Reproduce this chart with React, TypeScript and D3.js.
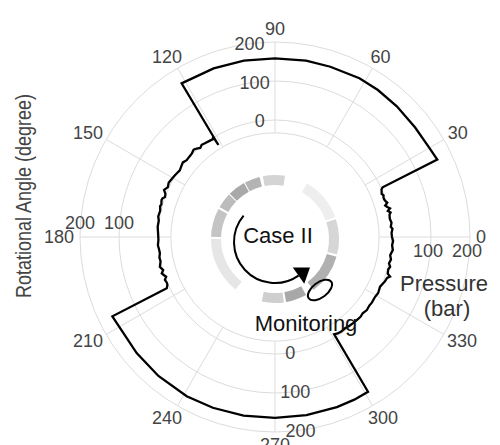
import React from 'react';
import * as d3 from 'd3';

// ---------- data ----------
const angleTicks = [0, 30, 60, 90, 120, 150, 180, 210, 240, 270, 300, 330];
const radialTicksVertical = [0, 100, 200];
const radialTicksHorizontal = [100, 200];
const radialDomain = [-300, 200];
const gridCircles = [-33, 0, 100, 200];
const spokeInner = -33;

// [rotational angle (deg), pressure (bar)]
const pressureTrace: [number, number][] = [
  [0, 0], [2, -1], [4, 2], [5, -2], [7, 1], [9, -2], [11, -1], [12, 3], [13, -3], [14, 4],
  [15, -2], [16, -6], [17, 1], [18, -2], [19, -4], [20, -4], [21, -2], [22, -5], [23, -3],
  [24, -1], [24.8, 4],
  [25.5, 161], [30, 157], [38, 156], [47, 158], [55, 160], [62, 161], [72, 159], [80, 159],
  [90, 158], [100, 159], [110, 160], [121.3, 161],
  [121.6, -23], [121.7, 2], [122.5, -3], [124, -2], [126.8, 0], [128.5, 2], [130, -2],
  [131.5, 3], [133, 6], [135, 2], [137, 1], [139, 0], [141, 4], [143, 1], [145, -2], [147, 0],
  [149, 2], [151, 4], [153, 6], [155, 3], [157, 9], [158.5, 2], [160, 0], [161, 5], [162, 6],
  [164, 3], [165, 5], [167, 2], [170, 4], [172, 1], [175, 2], [178, 0], [181.5, -1], [184, 1],
  [186, -1], [188, -2], [190, 1], [192, 0], [194.5, 5], [196.5, -1], [197.8, 5], [199, 1],
  [200, -3], [201.3, 3], [203, 1], [204, 2], [205.3, 7],
  [206, 164], [210, 161], [220, 163], [230, 165], [241, 167], [250, 166], [260, 165],
  [270, 164], [280, 164], [290, 164], [296, 164], [301, 163],
  [301.3, -8], [303, -5], [305, -4], [307.5, -5], [310, -3], [312, -2], [314.5, -1], [317, 0],
  [319, -2], [321.5, 1], [324, -1], [326, 0], [329, -1], [331.5, 1], [334.7, -2], [337, 2],
  [338, 4], [340, 6], [341, 12], [342, 4], [344, 2], [345.5, 5], [347, 0], [349, 3], [351, -1],
  [353.7, 4], [356, 1], [358, 3], [360, 0],
];

// inner grey ring segments: [start angle, end angle, shade]
const ringStarts = [20, 81, 104, 119, 136, 152, 180, 258, 280, 307, 346];
const ringEnds = [60, 101, 118, 135, 150, 178, 232, 278, 299, 344, 378];
const ringShades = ['#eeeeee', '#d4d4d4', '#b4b4b4', '#a9a9a9', '#bcbcbc', '#c4c4c4', '#e6e6e6', '#cfcfcf', '#a8a8a8', '#b0b0b0', '#d6d6d6'];

// ---------- layout ----------
const W = 500;
const H = 445;
const cx = 275;
const cy = 237;
const R = 195;
const FONT = '"Liberation Sans", Arial, Helvetica, sans-serif';

const rScale = d3.scaleLinear().domain(radialDomain).range([0, R]);
const aScale = d3.scaleLinear().domain([0, 360]).range([0, 2 * Math.PI]);

const px = (deg: number, r: number) => cx + r * Math.cos(aScale(deg));
const py = (deg: number, r: number) => cy - r * Math.sin(aScale(deg));

export default function App() {
  const line = d3
    .line<[number, number]>()
    .x((d) => px(d[0], rScale(d[1])))
    .y((d) => py(d[0], rScale(d[1])));

  const ringArc = d3.arc<any>().innerRadius(54).outerRadius(64);

  // angle label placement: box touches circle of radius labelR
  const labelR = 201;
  const angleLabelPos = (a: number) => {
    const w = String(a).length * 10;
    const h = 14;
    const c = Math.cos(aScale(a));
    const s = Math.sin(aScale(a));
    return [px(a, labelR) + (w / 2) * c, py(a, labelR) - (h / 2) * s];
  };

  // arrow annotation
  const acx = 275, acy = 242, ar = 41;
  const arrowPath = d3.arc<any>()({
    innerRadius: ar,
    outerRadius: ar,
    startAngle: aScale(90 - 140),
    endAngle: aScale(90 - 305),
  } as any);
  const endDeg = 305;
  const ex = acx + ar * Math.cos(aScale(endDeg));
  const ey = acy - ar * Math.sin(aScale(endDeg));
  const tx = -Math.sin(aScale(endDeg));
  const ty = -Math.cos(aScale(endDeg));
  const nx = Math.cos(aScale(endDeg));
  const ny = -Math.sin(aScale(endDeg));
  const tip = [ex + tx * 14, ey + ty * 14];
  const b1 = [ex + nx * 10, ey + ny * 10];
  const b2 = [ex - nx * 10, ey - ny * 10];

  return (
    <svg width={W} height={H} style={{ position: 'absolute', left: 0, top: 0, background: '#fff' }} fontFamily={FONT}>
      <rect x={0} y={0} width={W} height={H} fill="#fff" />
      {/* grid circles */}
      {gridCircles.map((v) => (
        <circle key={v} cx={cx} cy={cy} r={rScale(v)} fill="none" stroke="#dcdcdc" strokeWidth={1} />
      ))}
      {/* spokes */}
      {angleTicks.map((a) => (
        <line key={a} x1={px(a, rScale(spokeInner))} y1={py(a, rScale(spokeInner))} x2={px(a, R)} y2={py(a, R)} stroke="#dcdcdc" strokeWidth={1} />
      ))}
      {/* angle labels */}
      {angleTicks.map((a) => {
        const [x, y] = angleLabelPos(a);
        return (
          <text key={a} x={x} y={y} textAnchor="middle" dy="0.36em" fontSize={18} fill="#444">
            {a}
          </text>
        );
      })}
      {/* radial labels, vertical axes */}
      {radialTicksVertical.map((v) => (
        <text key={'t' + v} x={px(97.5, rScale(v))} y={py(97.5, rScale(v))} textAnchor="middle" dy="0.36em" fontSize={18} fill="#444">
          {v}
        </text>
      ))}
      {radialTicksVertical.map((v) => (
        <text key={'b' + v} x={px(277.5, rScale(v))} y={py(277.5, rScale(v))} textAnchor="middle" dy="0.36em" fontSize={18} fill="#444">
          {v}
        </text>
      ))}
      {/* radial labels, horizontal axes */}
      {radialTicksHorizontal.map((v) => (
        <text key={'l' + v} x={px(180, rScale(v))} y={cy - 14} textAnchor="middle" dy="0.36em" fontSize={18} fill="#444">
          {v}
        </text>
      ))}
      {radialTicksHorizontal.map((v) => (
        <text key={'r' + v} x={px(0, rScale(v)) - 3} y={cy + 14} textAnchor="middle" dy="0.36em" fontSize={18} fill="#444">
          {v}
        </text>
      ))}
      {/* inner ring */}
      <g transform={`translate(${cx},${cy + 2})`}>
        {ringStarts.map((s, i) => (
          <path key={i} d={ringArc({ startAngle: aScale(90 - ringEnds[i]), endAngle: aScale(90 - s) } as any) || ''} fill={ringShades[i]} />
        ))}
      </g>
      {/* pressure trace */}
      <path d={line(pressureTrace) || ''} fill="none" stroke="#000" strokeWidth={2.3} strokeLinejoin="miter" />
      {/* arrow */}
      <g transform={`translate(${acx},${acy})`}>
        <path d={arrowPath || ''} fill="none" stroke="#000" strokeWidth={2} />
      </g>
      <path d={`M${tip[0]},${tip[1]}L${b1[0]},${b1[1]}L${b2[0]},${b2[1]}Z`} fill="#000" />
      <ellipse cx={320} cy={290} rx={14} ry={7.5} transform="rotate(-37 320 290)" fill="none" stroke="#000" strokeWidth={2} />
      {/* annotation texts */}
      <text x={278} y={235} textAnchor="middle" dy="0.36em" fontSize={22} fill="#111">Case II</text>
      <text x={306} y={323} textAnchor="middle" dy="0.36em" fontSize={22} fill="#111">Monitoring</text>
      <text x={444} y={283} textAnchor="middle" dy="0.36em" fontSize={22} fill="#333">Pressure</text>
      <text x={447} y={308} textAnchor="middle" dy="0.36em" fontSize={22} fill="#333">(bar)</text>
      <text transform="translate(23,196) rotate(-90)" textAnchor="middle" dy="0.36em" fontSize={22} fill="#444" textLength={204} lengthAdjust="spacingAndGlyphs">
        Rotational Angle (degree)
      </text>
    </svg>
  );
}
